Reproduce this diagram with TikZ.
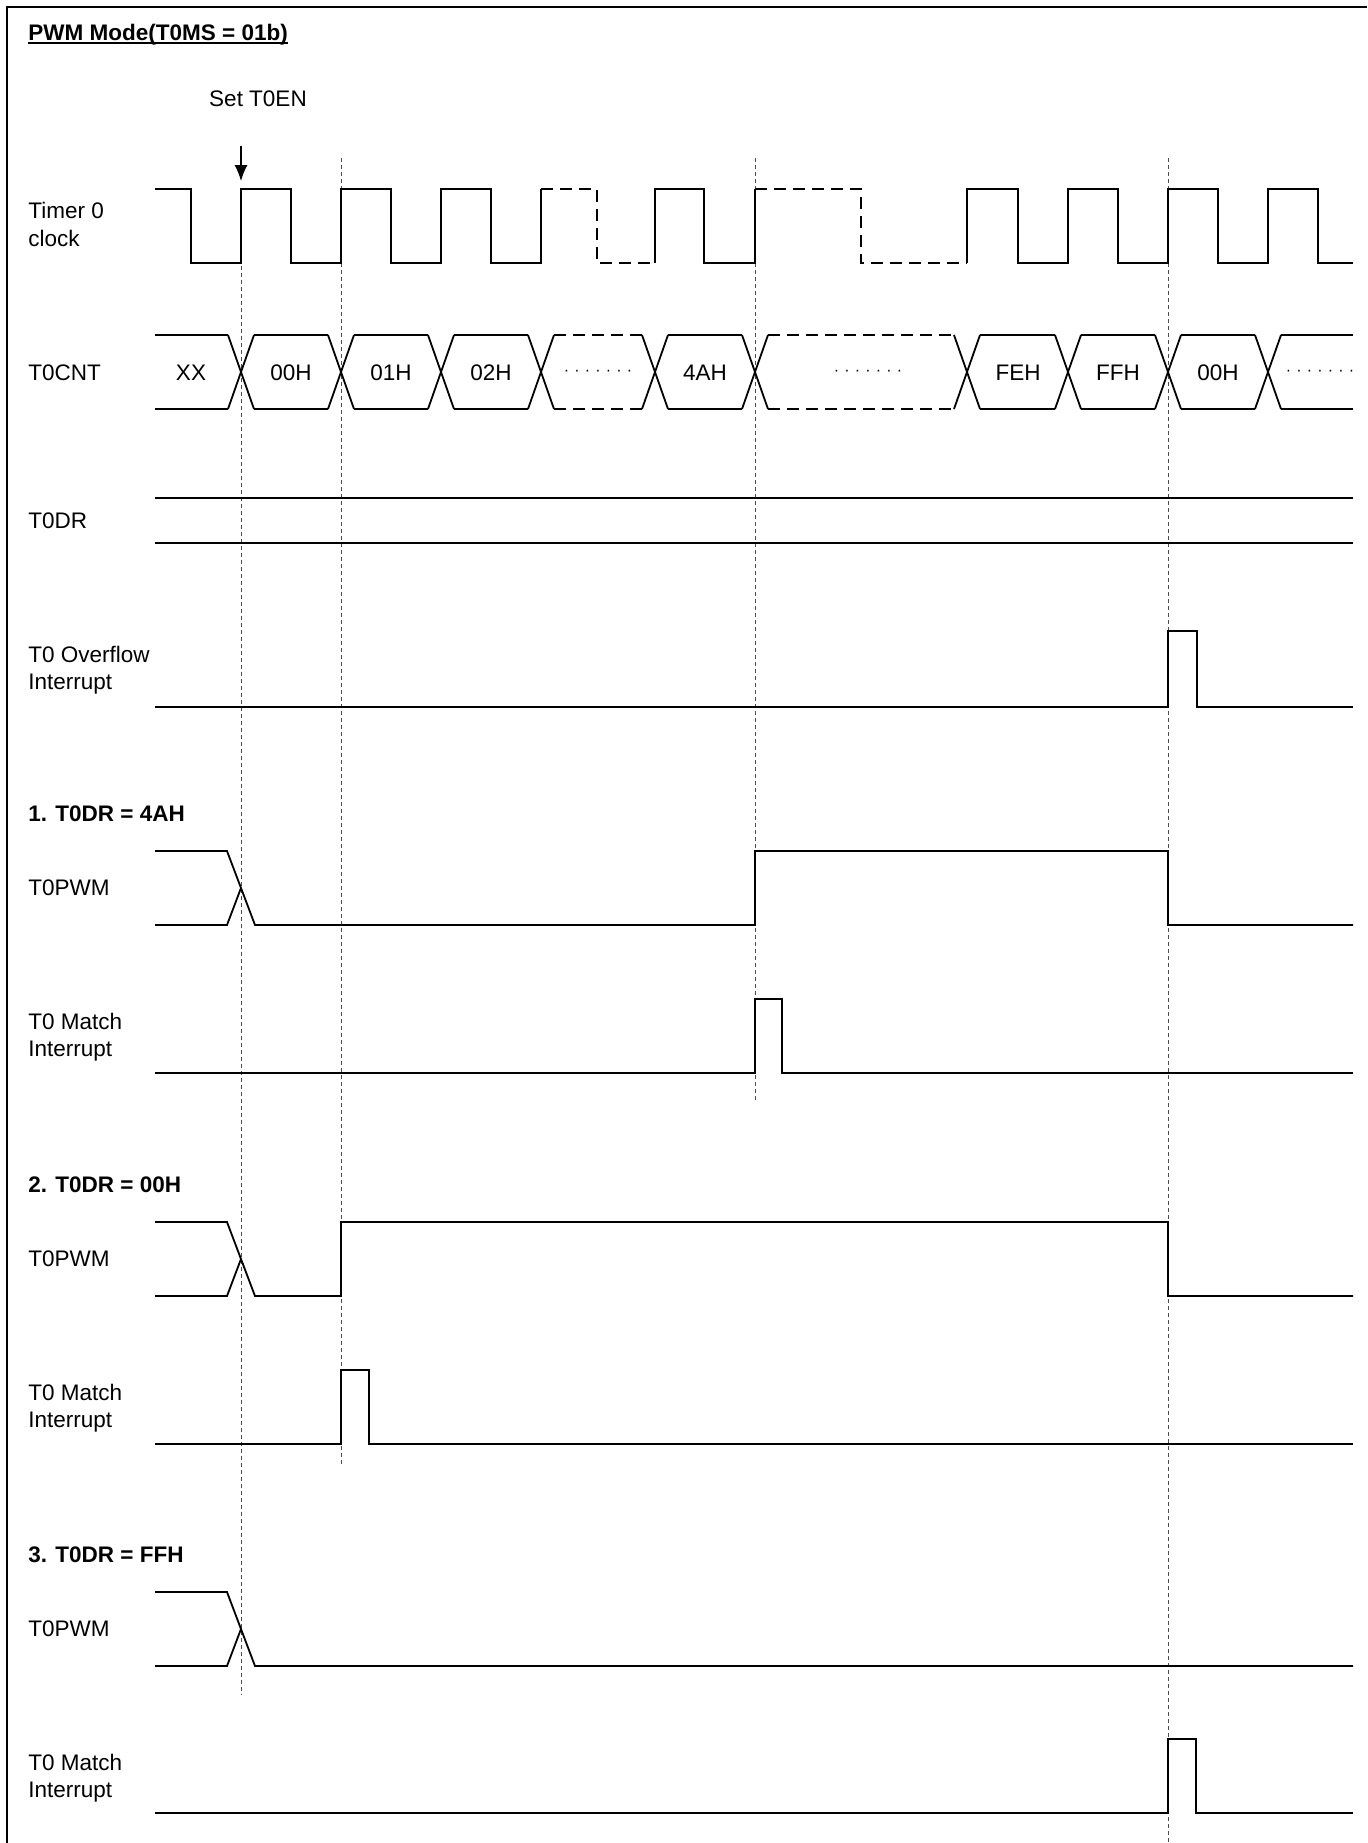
\documentclass[tikz,border=0pt]{standalone}
\usepackage{fontspec}
\setmainfont{Liberation Sans}
\usetikzlibrary{arrows.meta}
\newcommand{\dotrow}{{\fontsize{8}{8}\selectfont ·\kern2.6pt·\kern2.6pt·\kern2.6pt·\kern2.6pt·\kern2.6pt·\kern2.6pt·}}
\begin{document}
\begin{tikzpicture}[x=0.5pt,y=-0.5pt,
  sig/.style={line width=0.9pt, line join=miter},
  sigdash/.style={sig, dash pattern=on 6pt off 3.5pt},
  guide/.style={line width=0.5pt, black!70, dash pattern=on 2.2pt off 1.3pt},
  frame/.style={line width=1.2pt},
  lbl/.style={anchor=base west, inner sep=0pt, font=\fontsize{11.25}{13}\selectfont},
  blbl/.style={lbl, font=\fontsize{11.25}{13}\selectfont\bfseries},
  val/.style={anchor=base, inner sep=0pt, font=\fontsize{11.25}{13}\selectfont},
  dotsnode/.style={anchor=center, inner sep=0pt}]
\useasboundingbox (0,0) rectangle (1367,1843);
\fill[white] (0,0) rectangle (1367,1843);
% frame (left and top only)
\draw[frame] (7,1843) -- (7,7) -- (1367,7);

% title
\node[blbl] (title) at (28,40) {PWM Mode(T0MS = 01b)};
\draw[line width=0.9pt] ([yshift=-1.6pt]title.base west) -- ([yshift=-1.6pt]title.base east);
\node[val] (setten) at (258,106) {Set T0EN};
\coordinate (arrS) at (241,146);
\coordinate (arrE) at (241,181);
\draw[line width=0.6pt, -{Latex[length=8pt,width=6.5pt]}] (arrS) -- (arrE);

% guides
\draw[guide] (241,189) -- (241,1695);
\draw[guide] (341,158) -- (341,1465);
\draw[guide] (755,158) -- (755,1102);
\draw[guide] (1168,158) -- (1168,1843);

% labels
\node[lbl] (lclkA) at (28,218) {Timer 0};
\node[lbl] (lclkB) at (28,246) {clock};
\node[lbl] (lcnt) at (28,380) {T0CNT};
\node[lbl] (ldr) at (28,528) {T0DR};
\node[lbl] (lovA) at (28,662) {T0 Overflow};
\node[lbl] (lovB) at (28,689) {Interrupt};

% clock
\draw[sig] (155,189) -- (191,189) -- (191,263) -- (241,263) -- (241,189) -- (291,189) -- (291,263) -- (341,263) -- (341,189) -- (391,189) -- (391,263) -- (441,263) -- (441,189) -- (491,189) -- (491,263) -- (541,263) -- (541,189);
\draw[sigdash] (541,189) -- (597,189) -- (597,263) -- (655,263);
\draw[sig] (655,263) -- (655,189) -- (704,189) -- (704,263) -- (755,263) -- (755,189);
\draw[sigdash] (755,189) -- (861,189) -- (861,263) -- (967,263);
\draw[sig] (967,263) -- (967,189) -- (1018,189) -- (1018,263) -- (1068,263) -- (1068,189) -- (1118,189) -- (1118,263) -- (1168,263) -- (1168,189) -- (1218,189) -- (1218,263) -- (1268,263) -- (1268,189) -- (1318,189) -- (1318,263) -- (1353,263);

% T0CNT bus
\foreach \c in {241,341,441,541,655,755,967,1068,1168,1268}
  \draw[sig] (\c-13,335) -- (\c+13,409) (\c-13,409) -- (\c+13,335);
\draw[sig] (155,335) -- (228,335) (155,409) -- (228,409);
\foreach \a/\b in {241/341,341/441,441/541,655/755,967/1068,1068/1168,1168/1268}
  \draw[sig] (\a+13,335) -- (\b-13,335) (\a+13,409) -- (\b-13,409);
\foreach \a/\b in {541/655,755/967}
  \draw[sigdash] (\a+13,335) -- (\b-13,335) (\a+13,409) -- (\b-13,409);
\draw[sig] (1281,335) -- (1353,335) (1281,409) -- (1353,409);
\node[val] (vxx) at (191,380) {XX};
\node[val] (v00a) at (291,380) {00H};
\node[val] (v01) at (391,380) {01H};
\node[val] (v02) at (491,380) {02H};
\node[dotsnode] (d1) at (598,373) {\dotrow};
\node[val] (v4a) at (705,380) {4AH};
\node[dotsnode] (d2) at (868,373) {\dotrow};
\node[val] (vfe) at (1018,380) {FEH};
\node[val] (vff) at (1118,380) {FFH};
\node[val] (v00b) at (1218,380) {00H};
\node[dotsnode] (d3) at (1320,373) {\dotrow};

% T0DR
\draw[sig] (155,498) -- (1353,498);
\draw[sig] (155,543) -- (1353,543);

% Overflow
\draw[sig] (155,707) -- (1168,707) -- (1168,631) -- (1197,631) -- (1197,707) -- (1353,707);

% Section 1 (B=821)
\node[blbl] (s1) at (28,821) {1. T0DR = 4AH};
\node[lbl] (s1pwm) at (28,895) {T0PWM};
\node[lbl] (s1mA) at (28,1029) {T0 Match};
\node[lbl] (s1mB) at (28,1056) {Interrupt};
\draw[sig] (155,851) -- (227,851) -- (255,925) -- (755,925) -- (755,851) -- (1168,851) -- (1168,925) -- (1353,925);
\draw[sig] (155,925) -- (227,925) -- (241,888);
\draw[sig] (155,1073) -- (755,1073) -- (755,999) -- (782,999) -- (782,1073) -- (1353,1073);

% Section 2 (B=1192)
\node[blbl] (s2) at (28,1192) {2. T0DR = 00H};
\node[lbl] (s2pwm) at (28,1266) {T0PWM};
\node[lbl] (s2mA) at (28,1400) {T0 Match};
\node[lbl] (s2mB) at (28,1427) {Interrupt};
\draw[sig] (155,1222) -- (227,1222) -- (255,1296) -- (341,1296) -- (341,1222) -- (1168,1222) -- (1168,1296) -- (1353,1296);
\draw[sig] (155,1296) -- (227,1296) -- (241,1259);
\draw[sig] (155,1444) -- (341,1444) -- (341,1370) -- (369,1370) -- (369,1444) -- (1353,1444);

% Section 3 (B=1562)
\node[blbl] (s3) at (28,1562) {3. T0DR = FFH};
\node[lbl] (s3pwm) at (28,1636) {T0PWM};
\node[lbl] (s3mA) at (28,1770) {T0 Match};
\node[lbl] (s3mB) at (28,1797) {Interrupt};
\draw[sig] (155,1592) -- (227,1592) -- (255,1666) -- (1353,1666);
\draw[sig] (155,1666) -- (227,1666) -- (241,1629);
\draw[sig] (155,1813) -- (1168,1813) -- (1168,1739) -- (1196,1739) -- (1196,1813) -- (1353,1813);
\end{tikzpicture}
\end{document}
